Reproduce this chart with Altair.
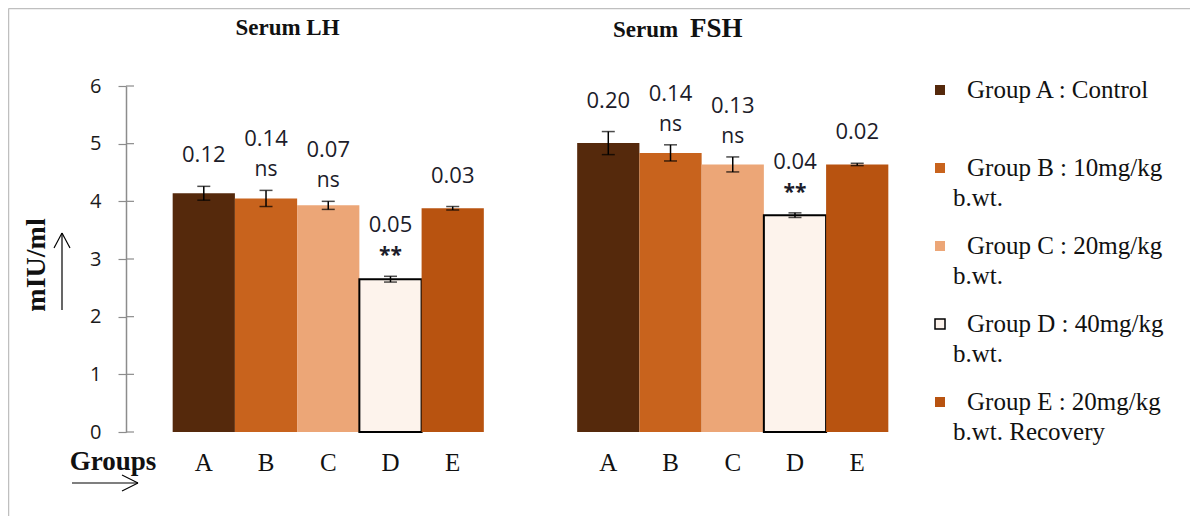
import altair as alt
import pandas as pd

hormones = ["LH", "FSH"]
groups = ["A", "B", "C", "D", "E"]
lh_mean = [4.14, 4.05, 3.93, 2.65, 3.88]
lh_sem = [0.12, 0.14, 0.07, 0.05, 0.03]
fsh_mean = [5.01, 4.84, 4.64, 3.76, 4.64]
fsh_sem = [0.20, 0.14, 0.13, 0.04, 0.02]
lh_sig = ["", "ns", "ns", "**", ""]
fsh_sig = ["", "ns", "ns", "**", ""]
y_ticks = [0, 1, 2, 3, 4, 5, 6]
legend_line1 = ["Group A : Control", "Group B : 10mg/kg", "Group C : 20mg/kg",
                "Group D : 40mg/kg", "Group E : 20mg/kg"]
legend_line2 = ["", "b.wt.", "b.wt.", "b.wt.", "b.wt. Recovery"]
group_colors = ["#55290c", "#c8631d", "#eca677", "#fdf3ec", "#b85310"]
y_title = "mIU/ml"
x_title = "Groups"
title_lh = "Serum LH"
title_fsh = ["Serum", "FSH"]

rows = []
for h, means, sems, sigs in [("LH", lh_mean, lh_sem, lh_sig), ("FSH", fsh_mean, fsh_sem, fsh_sig)]:
    for g, m, s, sg in zip(groups, means, sems, sigs):
        rows.append({"hormone": h, "group": g, "mean": m, "sem": s, "sig": sg})
df = pd.DataFrame(rows)
df_leg = pd.DataFrame({"group": groups, "line1": legend_line1, "line2": legend_line2,
                       "i": list(range(len(groups)))})
df_ticks = pd.DataFrame({"v": y_ticks})
dummy = alt.InlineData(values=[{"k": 0}])

W, H = 809, 346
AX = "#8c8c8c"
SANS = "Open Sans"
SERIF = "Liberation Serif"
TXT = "#1c1c2a"


def ys():
    return alt.Scale(domain=[0, 6])


x_enc = alt.X("hormone:N", sort=hormones,
              scale=alt.Scale(paddingInner=0, paddingOuter=0),
              axis=alt.Axis(labels=False, ticks=False, title=None,
                            domainColor=AX, domainWidth=1.5))
x_plain = alt.X("hormone:N", sort=hormones, axis=None)
xo_enc = alt.XOffset("group:N", sort=groups,
                     scale=alt.Scale(paddingInner=0, paddingOuter=0.75))
color_enc = alt.Color("group:N", scale=alt.Scale(domain=groups, range=group_colors), legend=None)

base = alt.Chart(df).transform_calculate(
    lo="datum.mean - datum.sem", hi="datum.mean + datum.sem")

bars = base.mark_bar(stroke="black").encode(
    x=x_enc, xOffset=xo_enc,
    y=alt.Y("mean:Q", scale=ys(),
            axis=alt.Axis(values=y_ticks, title=None, grid=False, domainColor=AX,
                          domainWidth=1.5, tickColor=AX, tickWidth=1.2, tickSize=8,
                          labelFont=SANS, labelFontSize=20, labelColor="#1a1a1a",
                          labelPadding=17)),
    color=color_enc,
    strokeWidth=alt.condition(alt.datum.group == "D", alt.value(2), alt.value(0)),
)

err = base.mark_rule(color="black", strokeWidth=1.5).encode(
    x=x_plain, xOffset=xo_enc, y=alt.Y("lo:Q", scale=ys(), axis=None), y2="hi:Q")
cap_hi = base.mark_tick(color="black", thickness=1.5, size=13).encode(
    x=x_plain, xOffset=xo_enc, y=alt.Y("hi:Q", scale=ys(), axis=None))
cap_lo = base.mark_tick(color="black", thickness=1.5, size=13).encode(
    x=x_plain, xOffset=xo_enc, y=alt.Y("lo:Q", scale=ys(), axis=None))

num_alone = base.transform_filter(alt.datum.sig == "").mark_text(
    dy=-31, baseline="middle", font=SANS, fontSize=22, color=TXT).encode(
    x=x_plain, xOffset=xo_enc, y=alt.Y("hi:Q", scale=ys(), axis=None),
    text=alt.Text("sem:Q", format=".2f"))
num_sig = base.transform_filter(alt.datum.sig != "").mark_text(
    dy=-51, baseline="middle", font=SANS, fontSize=22, color=TXT).encode(
    x=x_plain, xOffset=xo_enc, y=alt.Y("hi:Q", scale=ys(), axis=None),
    text=alt.Text("sem:Q", format=".2f"))
sig_ns = base.transform_filter(alt.datum.sig == "ns").mark_text(
    dy=-20, baseline="middle", font=SANS, fontSize=21, color=TXT).encode(
    x=x_plain, xOffset=xo_enc, y=alt.Y("hi:Q", scale=ys(), axis=None), text="sig:N")
sig_st = base.transform_filter(alt.datum.sig == "**").mark_text(
    dy=-20, baseline="middle", font=SANS, fontSize=21, fontWeight="bold", color=TXT).encode(
    x=x_plain, xOffset=xo_enc, y=alt.Y("hi:Q", scale=ys(), axis=None), text="sig:N")

letters = alt.Chart(df).mark_text(baseline="alphabetic", font=SERIF, fontSize=25,
                                  color="#111").encode(
    x=x_plain, xOffset=xo_enc, y=alt.value(385), text="group:N")

inner_ticks = alt.Chart(df_ticks).mark_rule(color=AX, strokeWidth=1.2).encode(
    y=alt.Y("v:Q", scale=ys(), axis=None), x=alt.value(0), x2=alt.value(8))


def rule(x1, y1, x2, y2, color="black", w=1.2):
    return alt.Chart(dummy).mark_rule(color=color, strokeWidth=w).encode(
        x=alt.value(x1), y=alt.value(y1), x2=alt.value(x2), y2=alt.value(y2))


def label(txt, x, y, size, weight="normal", align="center", angle=0, baseline="alphabetic",
          font=SERIF):
    return alt.Chart(dummy).mark_text(
        align=align, baseline=baseline, font=font, fontSize=size, fontWeight=weight,
        angle=angle, color="#111").encode(
        x=alt.value(x), y=alt.value(y), text=alt.value(txt))


decor = [
    rule(-117.5, -77.5, -117.5, 430, color="#bfbfbf", w=1.5),
    rule(-117.5, -77.5, 1064, -77.5, color="#bfbfbf", w=1.5),
    # vertical arrow next to y title
    rule(-64, 147, -64, 224),
    rule(-64, 147, -72, 162),
    rule(-64, 147, -56, 162),
    # horizontal arrow under "Groups"
    rule(-54, 397, 12, 397),
    rule(12, 397, -4, 389),
    rule(12, 397, -4, 405),
    label(y_title, -89, 179, 28, weight="bold", angle=270, baseline="middle"),
    label(x_title, -13, 384, 27, weight="bold"),
    label(title_lh, 161.5, -51, 23, weight="bold"),
    label(title_fsh[0], 487, -49, 23, weight="bold", align="left"),
    label(title_fsh[1], 564, -49, 27, weight="bold", align="left"),
]

leg_base = alt.Chart(df_leg).transform_calculate(
    ly="4 + datum.i * 78", ly2="34 + datum.i * 78")
leg_sq = leg_base.mark_square(size=100, opacity=1, stroke="black").encode(
    x=alt.value(814), y=alt.Y("ly:Q", scale=None, axis=None), color=color_enc,
    strokeWidth=alt.condition(alt.datum.group == "D", alt.value(1.5), alt.value(0)))
leg_t1 = leg_base.mark_text(align="left", baseline="middle", font=SERIF, fontSize=25,
                            color="#111").encode(
    x=alt.value(841), y=alt.Y("ly:Q", scale=None, axis=None), text="line1:N")
leg_t2 = leg_base.mark_text(align="left", baseline="middle", font=SERIF, fontSize=25,
                            color="#111").encode(
    x=alt.value(827), y=alt.Y("ly2:Q", scale=None, axis=None), text="line2:N")

chart = alt.layer(
    bars, inner_ticks, err, cap_hi, cap_lo, num_alone, num_sig, sig_ns, sig_st, letters,
    *decor, leg_sq, leg_t1, leg_t2
).resolve_scale(y="independent").properties(
    width=W, height=H,
    padding={"left": 118, "top": 78, "right": 255, "bottom": 84},
    autosize=alt.AutoSizeParams(type="none"),
    background="white",
).configure_view(strokeWidth=0)

chart.save("out.html", embed_options={"renderer": "svg", "actions": False})
